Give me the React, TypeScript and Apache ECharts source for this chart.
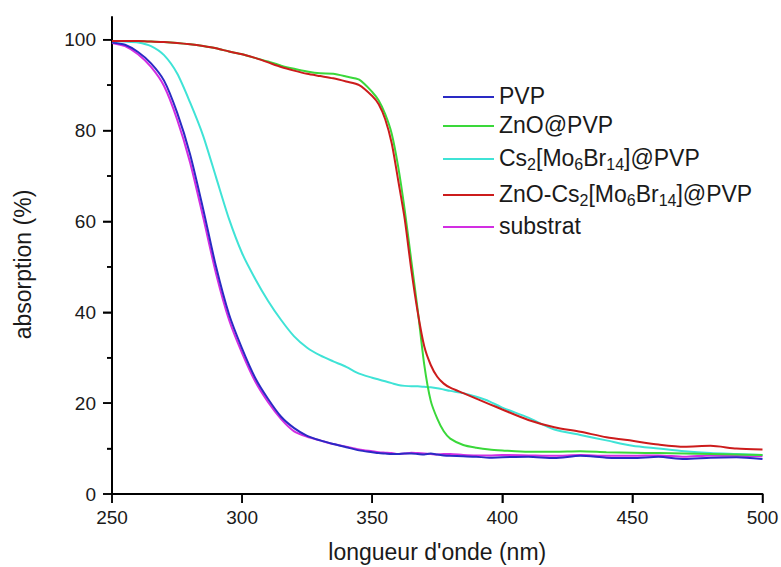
import React, { useEffect, useRef } from "react";
import * as echarts from "echarts";

const wavelengths = [250, 255, 260, 265, 270, 275, 280, 285, 290, 295, 300, 305, 310, 315, 320, 325, 330, 335, 340, 345, 350, 352.5, 355, 357.5, 360, 362.5, 365, 367.5, 370, 372.5, 375, 377.5, 380, 385, 390, 395, 400, 410, 420, 430, 440, 450, 460, 470, 480, 490, 500];

const pvp = [99.4, 98.9, 97.3, 94.8, 91.0, 84.0, 74.8, 62.8, 50.0, 39.5, 32.0, 25.6, 20.9, 17.0, 14.5, 12.8, 11.8, 11.0, 10.3, 9.6, 9.2, 9.0, 8.9, 8.8, 8.8, 8.9, 8.9, 8.8, 8.7, 8.9, 8.7, 8.5, 8.4, 8.3, 8.2, 8.0, 8.1, 8.2, 7.9, 8.4, 8.0, 7.9, 8.2, 7.7, 8.0, 8.1, 7.7];

const znoPvp = [99.7, 99.7, 99.7, 99.6, 99.5, 99.3, 99.0, 98.6, 98.1, 97.4, 96.8, 96.0, 95.2, 94.3, 93.6, 93.0, 92.6, 92.5, 91.9, 91.2, 88.5, 86.6, 83.6, 79.3, 72.0, 62.5, 51.5, 40.5, 28.5, 20.5, 16.6, 13.8, 12.2, 10.8, 10.2, 9.8, 9.6, 9.3, 9.3, 9.4, 9.2, 9.1, 9.0, 8.9, 8.8, 8.7, 8.6];

const csPvp = [99.7, 99.6, 99.4, 98.6, 96.6, 92.6, 86.2, 78.9, 69.7, 60.5, 53.0, 47.4, 42.5, 38.3, 34.7, 32.2, 30.5, 29.2, 28.0, 26.5, 25.6, 25.2, 24.8, 24.4, 24.0, 23.8, 23.7, 23.7, 23.6, 23.5, 23.3, 23.0, 22.7, 22.2, 21.4, 20.4, 19.0, 16.8, 14.2, 13.0, 11.8, 10.6, 10.0, 9.4, 9.0, 8.8, 8.6];

const znoCsPvp = [99.7, 99.7, 99.7, 99.6, 99.5, 99.3, 99.0, 98.6, 98.1, 97.4, 96.8, 96.0, 95.0, 94.0, 93.2, 92.5, 92.0, 91.5, 90.8, 90.0, 87.6, 85.8, 82.5, 77.2, 69.0, 60.5, 49.5, 40.0, 32.5, 28.4, 25.8, 24.3, 23.4, 22.2, 21.0, 19.8, 18.6, 16.3, 14.7, 13.7, 12.5, 11.7, 10.9, 10.4, 10.6, 10.0, 9.8];

const substrat = [99.3, 98.6, 96.8, 94.0, 89.8, 82.5, 73.0, 61.0, 48.5, 38.3, 31.0, 24.8, 20.2, 16.5, 13.8, 12.6, 11.8, 11.0, 10.4, 9.8, 9.4, 9.2, 9.1, 9.0, 8.8, 8.9, 9.1, 9.0, 8.9, 8.8, 8.7, 8.8, 8.8, 8.6, 8.5, 8.5, 8.6, 8.5, 8.4, 8.6, 8.4, 8.4, 8.5, 8.2, 8.5, 8.4, 8.3];

const seriesNames = ["PVP", "ZnO@PVP", "Cs2[Mo6Br14]@PVP", "ZnO-Cs2[Mo6Br14]@PVP", "substrat"];
const seriesColors = ["#2a2ac4", "#3ad83a", "#3fe3d6", "#cc1c1c", "#d22ee2"];
const seriesValues = [pvp, znoPvp, csPvp, znoCsPvp, substrat];
const drawOrder = [4, 0, 2, 1, 3];

const xTicks = { min: 250, max: 500, interval: 50 };
const xTickValues = [250, 300, 350, 400, 450, 500];
const yRange = { min: 0, max: 105, interval: 20 };
const yMajorTicks = [0, 20, 40, 60, 80, 100];
const yMinorTicks = [10, 30, 50, 70, 90];

const FONT = "Liberation Sans, Arial, sans-serif";
const TXT = "#1a1a1a";

function richName(name: string): string {
  const parts = name.split(/(\d+)/);
  return parts
    .filter((p) => p.length > 0)
    .map((p) => (/^\d+$/.test(p) ? `{s|${p}}` : `{a|${p}}`))
    .join("");
}

export default function App() {
  const ref = useRef<HTMLDivElement>(null);
  useEffect(() => {
    if (!ref.current) return;
    const chart = echarts.init(ref.current, null, { renderer: "svg" });
    const lineSeries = drawOrder.map((i) => ({
      name: seriesNames[i],
      type: "line",
      data: wavelengths.map((w, k) => [w, seriesValues[i][k]]),
      symbol: "none",
      smooth: 0.25,
      lineStyle: { color: seriesColors[i], width: 2 },
      itemStyle: { color: seriesColors[i] },
      xAxisIndex: 0,
      yAxisIndex: 0,
    }));
    const tickLine = { color: "#000", width: 1.5 };
    chart.setOption({
      animation: false,
      backgroundColor: "#ffffff",
      grid: { left: 112, right: 18.5, top: 17, bottom: 73, outerBoundsMode: "none", containLabel: false },
      xAxis: {
        type: "value",
        min: xTicks.min,
        max: xTicks.max,
        interval: xTicks.interval,
        axisLine: { show: true, lineStyle: { color: "#000", width: 2 } },
        axisTick: { show: true, inside: false, length: 9, lineStyle: tickLine },
        axisLabel: { fontSize: 19, color: TXT, fontFamily: FONT, padding: [6, 0, 0, 0] },
        splitLine: { show: false },
        name: "longueur d'onde (nm)",
        nameLocation: "middle",
        nameGap: 46,
        nameTextStyle: { fontSize: 23, color: TXT, fontFamily: FONT },
      },
      yAxis: [
        {
          type: "value",
          min: yRange.min,
          max: yRange.max,
          interval: yRange.interval,
          position: "left",
          axisLine: { show: true, onZero: false, lineStyle: { color: "#000", width: 2 } },
          axisTick: { show: false },
          axisLabel: {
            fontSize: 19,
            color: TXT,
            fontFamily: FONT,
            padding: [0, 8, 0, 0],
            formatter: (v: number) => (yMajorTicks.indexOf(v) >= 0 ? String(v) : ""),
          },
          splitLine: { show: false },
          name: "absorption (%)",
          nameLocation: "middle",
          nameGap: 78,
          nameTextStyle: { fontSize: 23, color: TXT, fontFamily: FONT, padding: [0, 18, 0, 0] },
        },
        {
          type: "value",
          min: yRange.min,
          max: yRange.max,
          position: "left",
          axisLine: { show: false },
          axisTick: { show: true, inside: false, length: 9, customValues: yMajorTicks, lineStyle: tickLine },
          axisLabel: { show: false },
          splitLine: { show: false },
        },
        {
          type: "value",
          min: yRange.min,
          max: yRange.max,
          position: "left",
          axisLine: { show: false },
          axisTick: { show: true, inside: false, length: 5, customValues: yMinorTicks, lineStyle: tickLine },
          axisLabel: { show: false },
          splitLine: { show: false },
        },
      ],
      legend: {
        data: seriesNames,
        orient: "vertical",
        left: 443,
        top: 84,
        padding: 0,
        itemGap: 6,
        itemWidth: 51,
        itemHeight: 2,
        icon: "rect",
        formatter: (name: string) => richName(name),
        textStyle: {
          color: TXT,
          fontFamily: FONT,
          fontSize: 23,
          rich: {
            a: { fontSize: 23, lineHeight: 26, verticalAlign: "top", color: TXT, fontFamily: FONT },
            s: { fontSize: 16, lineHeight: 16, verticalAlign: "bottom", padding: [14, 0, 0, 0], color: TXT, fontFamily: FONT },
          },
        },
      },
      series: lineSeries,
    });
    // backup tick marks placed through the chart's own scales
    try {
      const finder = { gridIndex: 0 };
      const style = { stroke: "#000", lineWidth: 1.5 };
      const ticks: any[] = [];
      xTickValues.forEach((v) => {
        const p = chart.convertToPixel(finder, [v, yRange.min]) as number[];
        if (p) ticks.push({ type: "line", silent: true, shape: { x1: p[0], y1: p[1] + 1, x2: p[0], y2: p[1] + 9 }, style });
      });
      yMajorTicks.forEach((v) => {
        const p = chart.convertToPixel(finder, [xTicks.min, v]) as number[];
        if (p) ticks.push({ type: "line", silent: true, shape: { x1: p[0] - 9, y1: p[1], x2: p[0] - 1, y2: p[1] }, style });
      });
      yMinorTicks.forEach((v) => {
        const p = chart.convertToPixel(finder, [xTicks.min, v]) as number[];
        if (p) ticks.push({ type: "line", silent: true, shape: { x1: p[0] - 5, y1: p[1], x2: p[0] - 1, y2: p[1] }, style });
      });
      if (ticks.length) chart.setOption({ graphic: { elements: ticks } });
    } catch (e) {
      // ignore
    }
    return () => chart.dispose();
  }, []);
  return <div ref={ref} style={{ width: 781, height: 567, position: "absolute", left: 0, top: 0 }} />;
}
